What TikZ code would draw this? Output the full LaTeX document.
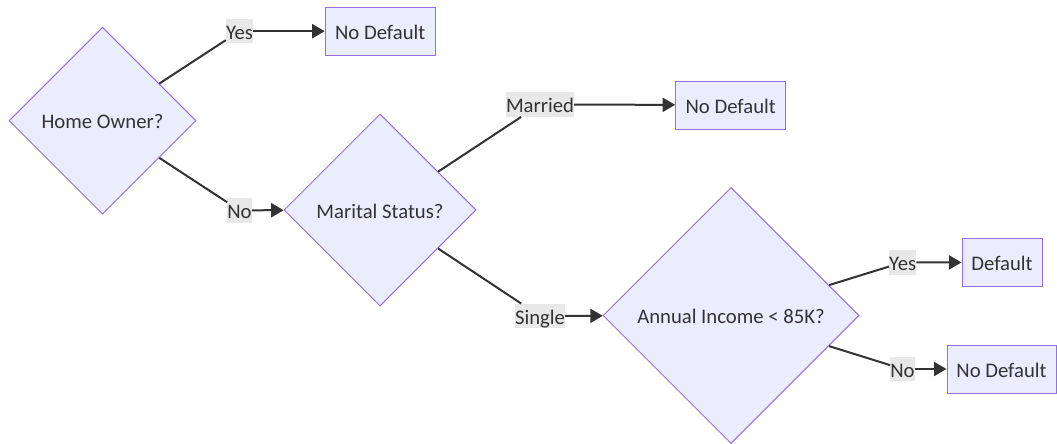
\documentclass[tikz,border=0pt]{standalone}
\usepackage{fontspec}
\setmainfont{Carlito}
\usetikzlibrary{shapes.geometric,arrows.meta}
\definecolor{nodefill}{HTML}{ECECFF}
\definecolor{nodeline}{HTML}{9370DB}
\definecolor{ink}{HTML}{333333}
\definecolor{tagfill}{HTML}{E8E8E8}
\tikzset{
  base/.style={font=\fontsize{20.7}{24}\selectfont, text=ink},
  decision/.style={base, diamond, aspect=1, draw=nodeline, fill=nodefill,
    line width=1pt, inner sep=0pt, text height=16pt, text depth=0pt},
  leaf/.style={base, rectangle, draw=nodeline, fill=nodefill, line width=1pt,
    inner xsep=2pt, inner ysep=0pt, minimum height=48pt,
    text height=16pt, text depth=0pt},
  tag/.style={base, rectangle, fill=tagfill, inner xsep=0pt, inner ysep=0pt,
    minimum height=24.5pt, text height=18pt, text depth=2pt},
  flow/.style={draw=ink, line width=2pt},
  tip/.style={-{Triangle[length=12.5pt,width=14pt]}},
}
\begin{document}
\begin{tikzpicture}[x=1pt, y=-1pt]
  \useasboundingbox (0,0) rectangle (1057,444);

  % decisions
  \node[decision, minimum size=187pt] (home)    at (102.5,120.7) {Home Owner?};
  \node[decision, minimum size=192pt] (marital) at (380,210)     {Marital Status?};
  \node[decision, minimum size=256pt] (income)  at (731,315.5)   {Annual Income < 85K?};

  % outcomes
  \node[leaf, minimum width=110pt] (nd1) at (380.2,31.2)  {No Default};
  \node[leaf, minimum width=110pt] (nd2) at (730.7,105)   {No Default};
  \node[leaf, minimum width=80pt]  (def) at (1002,262.5)  {Default};
  \node[leaf, minimum width=109pt] (nd3) at (1001.5,369)  {No Default};

  % branch labels
  \node[tag] (yes1)    at (239.5,31.2)  {Yes};
  \node[tag] (no1)     at (239.5,210.3) {No};
  \node[tag] (married) at (540,104.5)   {Married};
  \node[tag] (single)  at (540,316)     {Single};
  \node[tag] (yes2)    at (902.7,262.3) {Yes};
  \node[tag] (no2)     at (902.5,369)   {No};

  % connectors
  \draw[flow] (home) -- (yes1);
  \draw[flow, tip] (yes1) -- (nd1);
  \draw[flow] (home) -- (no1);
  \draw[flow, tip] (no1) -- (marital);
  \draw[flow] (marital) -- (married);
  \draw[flow, tip] (married) -- (nd2);
  \draw[flow] (marital) -- (single);
  \draw[flow, tip] (single) -- (income);
  \draw[flow] (income) -- (yes2);
  \draw[flow, tip] (yes2) -- (def);
  \draw[flow] (income) -- (no2);
  \draw[flow, tip] (no2) -- (nd3);
\end{tikzpicture}
\end{document}
